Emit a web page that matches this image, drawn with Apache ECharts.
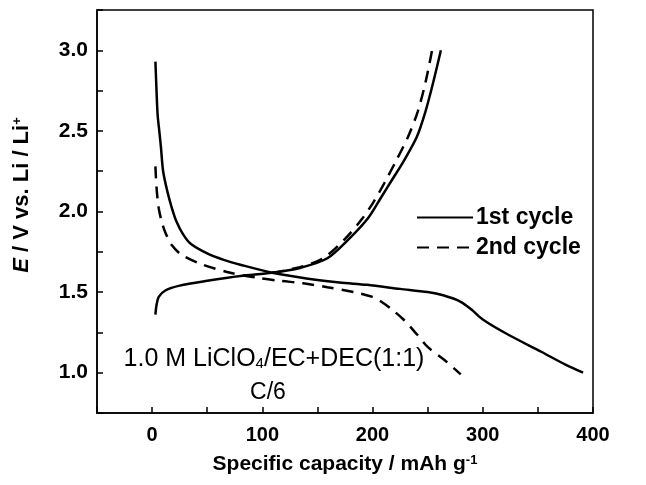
<!DOCTYPE html>
<html>
<head>
    <meta charset="UTF-8">
    <title>Charge / discharge curves</title>
    <script src="https://cdn.jsdelivr.net/npm/echarts@6/dist/echarts.min.js"></script>
</head>
<body style="margin:0;background:#fff;">
    <div id="main" style="width: 646px;height:485px;"></div>
    <script type="text/javascript">
        // [capacity mAh/g, potential V]
        var cycle1Discharge = [
            [3, 2.93], [4, 2.75], [5, 2.6], [6.5, 2.5], [8, 2.4], [10, 2.25], [14, 2.12], [18, 2.02],
            [22, 1.94], [28, 1.86], [35, 1.80], [50, 1.74], [65, 1.70], [80, 1.67], [109, 1.62],
            [140, 1.585], [170, 1.56], [195, 1.545], [225, 1.52], [250, 1.50], [264, 1.48],
            [280, 1.44], [290, 1.39], [300, 1.33], [322, 1.24], [353, 1.13], [375, 1.05], [391, 1.0]
        ];
        var cycle1Charge = [
            [3, 1.36], [4, 1.42], [6, 1.47], [12, 1.51], [25, 1.54], [50, 1.57], [80, 1.60],
            [109, 1.62], [134, 1.65], [159, 1.71], [180, 1.84], [196, 1.96], [208, 2.09],
            [218, 2.2], [228, 2.31], [240, 2.46], [248, 2.62], [255, 2.8], [262, 3.0]
        ];
        var cycle2Discharge = [
            [3, 2.28], [4, 2.15], [6, 2.02], [9, 1.93], [12, 1.87], [18, 1.79], [27, 1.73],
            [46, 1.67], [71, 1.62], [95, 1.59], [116, 1.57], [137, 1.555], [159, 1.53],
            [183, 1.50], [200, 1.47], [208, 1.44], [218, 1.39], [228, 1.33], [240, 1.24],
            [250, 1.16], [265, 1.08], [280, 0.99]
        ];
        var cycle2Charge = [
            [109, 1.62], [134, 1.655], [155, 1.71], [175, 1.83], [190, 1.95], [201, 2.06],
            [211, 2.18], [221, 2.31], [232, 2.46], [241, 2.62], [248, 2.8], [254, 3.0]
        ];
        var seriesNames = ['1st cycle', '2nd cycle'];
        var xLabels = [0, 100, 200, 300, 400];
        var yLabels = [1.0, 1.5, 2.0, 2.5, 3.0];

        var myChart = echarts.init(document.getElementById('main'));
        var font = 'Liberation Sans, Arial, sans-serif';

        function curve(name, data, dashed) {
            return {
                name: name,
                type: 'line',
                data: data,
                showSymbol: false,
                symbol: 'none',
                smooth: 0.3,
                lineStyle: { color: '#000', width: 2.5, type: dashed ? [12, 8] : 'solid' },
                itemStyle: { color: '#000' }
            };
        }

        var option = {
            animation: false,
            backgroundColor: '#fff',
            grid: {
                left: 97, right: 53, top: 10, bottom: 72,
                show: true, borderColor: '#000', borderWidth: 1.5
            },
            legend: {
                data: seriesNames,
                orient: 'vertical',
                left: 411, top: 201,
                itemWidth: 56, itemHeight: 12, itemGap: 7,
                itemStyle: { opacity: 0 },
                textStyle: { fontFamily: font, fontSize: 23, fontWeight: 'bold', color: '#000', padding: [0, 0, 0, -2] }
            },
            xAxis: {
                type: 'value',
                min: -50, max: 400, interval: 50,
                splitLine: { show: false },
                axisLine: { onZero: false, lineStyle: { color: '#000', width: 1.5 } },
                axisTick: { inside: true, length: 6, lineStyle: { color: '#000', width: 1.5 } },
                axisLabel: {
                    margin: 12, color: '#000', fontFamily: font, fontSize: 20, fontWeight: 'bold',
                    showMaxLabel: true, showMinLabel: true,
                    formatter: function (v) { return xLabels.indexOf(v) >= 0 ? String(v) : ''; }
                }
            },
            yAxis: {
                type: 'value',
                min: 0.75, max: 3.25, interval: 0.25,
                splitLine: { show: false },
                axisLine: { onZero: false, lineStyle: { color: '#000', width: 1.5 } },
                axisTick: { inside: true, length: 6, lineStyle: { color: '#000', width: 1.5 } },
                axisLabel: {
                    margin: 9, color: '#000', fontFamily: font, fontSize: 21, fontWeight: 'bold',
                    formatter: function (v) {
                        var r = Math.round(v * 100) / 100;
                        return yLabels.indexOf(r) >= 0 ? r.toFixed(1) : '';
                    }
                }
            },
            graphic: [
                {
                    type: 'text', x: 22, y: 195, rotation: Math.PI / 2,
                    style: {
                        text: '{i|E} / V vs. Li / Li{sup|+}',
                        fontFamily: font, fontSize: 22, fontWeight: 'bold', fill: '#000',
                        align: 'center', verticalAlign: 'middle',
                        rich: {
                            i: { fontFamily: font, fontSize: 22, fontWeight: 'bold', fontStyle: 'italic' },
                            sup: { fontFamily: font, fontSize: 13, fontWeight: 'bold', verticalAlign: 'top' }
                        }
                    }
                },
                {
                    type: 'text', x: 345, y: 464,
                    style: {
                        text: 'Specific capacity / mAh g{sup|-1}',
                        fontFamily: font, fontSize: 21, fontWeight: 'bold', fill: '#000',
                        align: 'center', verticalAlign: 'middle',
                        rich: {
                            sup: { fontFamily: font, fontSize: 13, fontWeight: 'bold', verticalAlign: 'top' }
                        }
                    }
                },
                {
                    type: 'text', x: 274, y: 359,
                    style: {
                        text: '1.0 M LiClO{sub|4}/EC+DEC(1:1)',
                        fontFamily: font, fontSize: 25, fill: '#000',
                        align: 'center', verticalAlign: 'middle',
                        rich: {
                            sub: { fontFamily: font, fontSize: 15, verticalAlign: 'bottom' }
                        }
                    }
                },
                {
                    type: 'text', x: 268, y: 393,
                    style: {
                        text: 'C/6', fontFamily: font, fontSize: 23, fill: '#000',
                        align: 'center', verticalAlign: 'middle'
                    }
                }
            ],
            series: [
                curve(seriesNames[0], cycle1Discharge, false),
                curve(seriesNames[0], cycle1Charge, false),
                curve(seriesNames[1], cycle2Discharge, true),
                curve(seriesNames[1], cycle2Charge, true)
            ]
        };

        myChart.setOption(option);
    </script>
</body>
</html>
